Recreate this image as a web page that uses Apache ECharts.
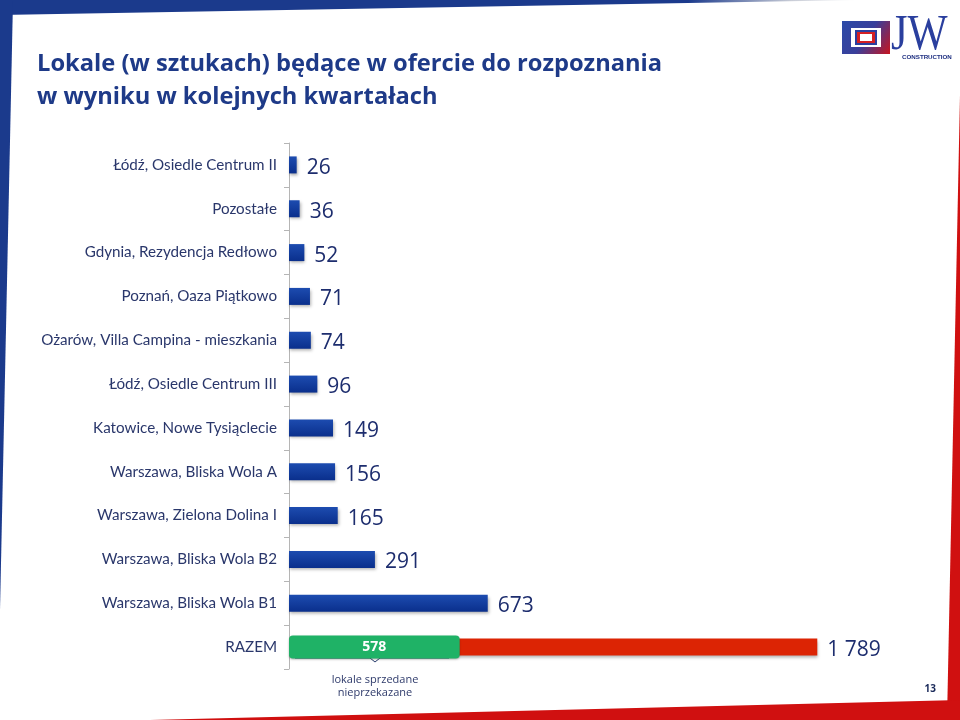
<!DOCTYPE html>
<html>
<head>
<meta charset="utf-8">
<script src="https://cdn.jsdelivr.net/npm/echarts@6/dist/echarts.min.js"></script>
<style>html,body{margin:0;padding:0;background:#fff}#c{width:960px;height:720px}</style>
</head>
<body>
<div id="c"></div>
<script>
const titleText = 'Lokale (w sztukach) będące w ofercie do rozpoznania\nw wyniku w kolejnych kwartałach';
const categories = [
  'Łódź, Osiedle Centrum II',
  'Pozostałe',
  'Gdynia, Rezydencja Redłowo',
  'Poznań, Oaza Piątkowo',
  'Ożarów, Villa Campina - mieszkania',
  'Łódź, Osiedle Centrum III',
  'Katowice, Nowe Tysiąclecie',
  'Warszawa, Bliska Wola A',
  'Warszawa, Zielona Dolina I',
  'Warszawa, Bliska Wola B2',
  'Warszawa, Bliska Wola B1',
  'RAZEM'
];
const values = [26, 36, 52, 71, 74, 96, 149, 156, 165, 291, 673, 1789];
const totalCategory = 'RAZEM';
const soldValues = [null, null, null, null, null, null, null, null, null, null, null, 578];
const soldNote = 'lokale sprzedane\nnieprzekazane';
const pageNumber = '13';

const blue = new echarts.graphic.LinearGradient(0, 0, 0, 1, [
  {offset: 0, color: '#1d4cb0'}, {offset: 1, color: '#0a2f8c'}
]);
const fmt = v => String(v).replace(/\B(?=(\d{3})+(?!\d))/g, ' ');
const mainData = values.map((v, i) => categories[i] === totalCategory
  ? {value: v, itemStyle: {color: '#dc2404'}} : v);

const chart = echarts.init(document.getElementById('c'), null, {renderer: 'canvas'});
chart.setOption({
  animation: false,
  backgroundColor: '#fff',
  title: {
    text: titleText, left: 32, top: 43,
    textStyle: {fontFamily: 'Open Sans', fontWeight: 'bold', fontSize: 23.7, color: '#1e3a88', lineHeight: 33}
  },
  grid: {left: 289, right: 80.4, top: 143, bottom: 51},
  xAxis: {type: 'value', min: 0, max: 2000, show: false},
  yAxis: [{
    type: 'category', data: categories, inverse: true,
    axisLine: {show: true, lineStyle: {color: '#b5b5b5', width: 1}},
    axisTick: {show: true, length: 5, lineStyle: {color: '#b5b5b5'}},
    axisLabel: {fontFamily: 'Lato', fontSize: 15.2, color: '#2a376b', margin: 12}
  }, {
    type: 'category', data: categories, inverse: true, show: false
  }],
  series: [{
    type: 'bar', data: mainData, barWidth: 17, yAxisIndex: 0,
    itemStyle: {color: blue, shadowBlur: 3, shadowColor: 'rgba(0,0,0,0.3)', shadowOffsetX: 1, shadowOffsetY: 2},
    label: {show: true, position: 'right', distance: 10, offset: [0, 3], formatter: p => fmt(p.value),
      fontFamily: 'Open Sans', fontSize: 21, color: '#1d2d6e'}
  }, {
    type: 'bar', data: soldValues, barWidth: 23, yAxisIndex: 1,
    itemStyle: {color: '#1fb266', borderRadius: 4, shadowBlur: 2, shadowColor: 'rgba(0,0,0,0.25)', shadowOffsetY: 1},
    label: {show: true, position: 'inside', formatter: p => p.value,
      fontFamily: 'Open Sans', fontWeight: 'bold', fontSize: 14, color: '#fff'}
  }],
  graphic: [
    // slide frame
    {type: 'polygon', shape: {points: [[0,0],[860,0],[0,15]]},
      style: {fill: new echarts.graphic.LinearGradient(0,0,1,0,[
        {offset:0,color:'#1b3a8c'},{offset:0.8,color:'#1b3a8c'},{offset:0.92,color:'#c8ccd6'},{offset:1,color:'#ffffff'}])}},
    {type: 'polygon', shape: {points: [[0,0],[13,0],[0,610]]}, style: {fill: '#1b3a8c'}},
    {type: 'polygon', shape: {points: [[960,95],[960,720],[947,720]]}, style: {fill: '#d01010'}},
    {type: 'polygon', shape: {points: [[150,720],[960,700],[960,720]]}, style: {fill: '#d01010'}},
    // logo
    {type: 'rect', shape: {x: 842, y: 21, width: 48, height: 33},
      style: {fill: new echarts.graphic.LinearGradient(0,0,1,1,[{offset:0,color:'#2b4aa8'},{offset:0.5,color:'#3a3f9a'},{offset:1,color:'#c8141e'}])}},
    {type: 'rect', shape: {x: 851, y: 28, width: 30, height: 19}, style: {fill: '#fff'}},
    {type: 'rect', shape: {x: 856, y: 31, width: 20, height: 13}, style: {fill: '#d42024', stroke: '#2b3f9f', lineWidth: 2}},
    {type: 'rect', shape: {x: 860, y: 34, width: 12, height: 7}, style: {fill: '#fff'}},
    {type: 'text', left: 891, top: 11, scaleX: 0.85,
      style: {text: 'JW', font: '50px "Liberation Serif"', fill: '#2a3f9e'}},
    {type: 'text', left: 902, top: 54,
      style: {text: 'CONSTRUCTION', font: 'bold 6.2px "Liberation Sans"', fill: '#1e2f80'}},
    // brace under the sold bar
    {type: 'polyline', shape: {points: [[292,654],[295,658],[370,658],[375,662],[380,658],[449,658],[452,654]]},
      style: {stroke: '#2c4070', lineWidth: 1, fill: null}},
    {type: 'text', x: 375, y: 673,
      style: {text: soldNote, font: '11px "Open Sans"', fill: '#2f3b6b', align: 'center', lineHeight: 13}},
    {type: 'text', x: 936, y: 684,
      style: {text: pageNumber, font: 'bold 10px "Open Sans"', fill: '#1a2a5a', align: 'right'}}
  ]
});
</script>
</body>
</html>
